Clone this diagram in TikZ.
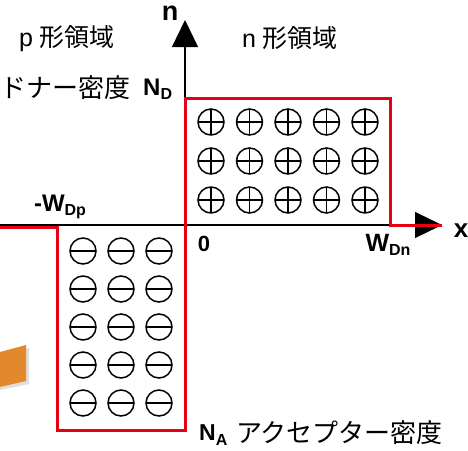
\documentclass[tikz,border=0pt]{standalone}
\usepackage{fontspec}
\setmainfont{Liberation Sans}
\newfontfamily\cjk{Noto Sans CJK JP}
\usetikzlibrary{arrows.meta}
\definecolor{pnred}{RGB}{230,0,18}
\definecolor{pnorange}{RGB}{226,137,44}
\newcommand\pnsub[1]{\raisebox{-0.35ex}{\fontsize{16}{16}\selectfont\bfseries #1}}
\tikzset{
  axis/.style={black,line width=1.2pt,-{Triangle[length=27pt,width=26pt]}},
  profile/.style={pnred,line width=3pt,line join=miter},
  ion/.style={black,line width=1.5pt},
  lbl/.style={inner sep=0pt,font=\fontsize{24}{28}\selectfont\bfseries},
  jp/.style={inner sep=0pt,font=\fontsize{24}{28}\selectfont\cjk},
}
\begin{document}
\begin{tikzpicture}[x=1pt,y=-1pt]
\useasboundingbox (0,0) rectangle (468,450);
% orange fragment at the left edge
\fill[black!25,opacity=0.5] (0,355) -- (29,348) -- (29,384) -- (0,390) -- cycle;
\fill[pnorange] (0,352) -- (26,345) -- (26,381) -- (0,387) -- cycle;
% axes
\coordinate (o) at (185,225);
\coordinate (ntip) at (185,20);
\coordinate (xl) at (0,225);
\coordinate (xtip) at (442,225);
\draw[axis] (o) -- (ntip);
\draw[axis] (xl) -- (xtip);
% ions
\foreach \x in {211,249.5,288,326.5,365}{
  \foreach \y in {122,161,200}{
    \draw[ion] (\x,\y) circle (13pt);
    \draw[ion] (\x-13,\y) -- (\x+13,\y);
    \draw[ion] (\x,\y-13) -- (\x,\y+13);
  }
}
\foreach \x in {83,121,159}{
  \foreach \y in {251,289,327,365,403}{
    \draw[ion] (\x,\y) circle (13pt);
    \draw[ion] (\x-13,\y) -- (\x+13,\y);
  }
}
% charge density profile
\draw[profile] (0,227) -- (57,227) -- (57,430) -- (185,430) -- (185,98)
  -- (390,98) -- (390,225) -- (442,225);
% labels
\node[lbl,font=\fontsize{27}{30}\selectfont\bfseries] (nlab) at (170,13) {n};
\node[lbl,font=\fontsize{26}{30}\selectfont\bfseries] (xlab) at (461,231) {x};
\node[jp,font=\fontsize{25}{30}\selectfont] (preg) at (67,39) {p {\cjk 形領域}};
\node[jp,font=\fontsize{25}{30}\selectfont] (nreg) at (290,38) {n {\cjk 形領域}};
\node[jp,anchor=west,font=\fontsize{26}{30}\selectfont\cjk] (dlab) at (0,88) {ドナー密度};
\node[lbl,anchor=west,font=\fontsize{24}{26}\selectfont\bfseries] (ND) at (143,89) {N\pnsub{D}};
\node[lbl,font=\fontsize{24}{26}\selectfont\bfseries] (wdp) at (60,207) {-W\pnsub{Dp}};
\node[lbl,font=\fontsize{22}{24}\selectfont\bfseries] (zero) at (204,244) {0};
\node[lbl,font=\fontsize{25}{28}\selectfont\bfseries] (wdn) at (388,245) {W\pnsub{Dn}};
\node[lbl,anchor=west,font=\fontsize{23}{26}\selectfont\bfseries] (NA) at (199,435) {N\pnsub{A}};
\node[jp,anchor=west,font=\fontsize{26}{30}\selectfont\cjk] (alab) at (236,433) {アクセプター密度};
\end{tikzpicture}
\end{document}
